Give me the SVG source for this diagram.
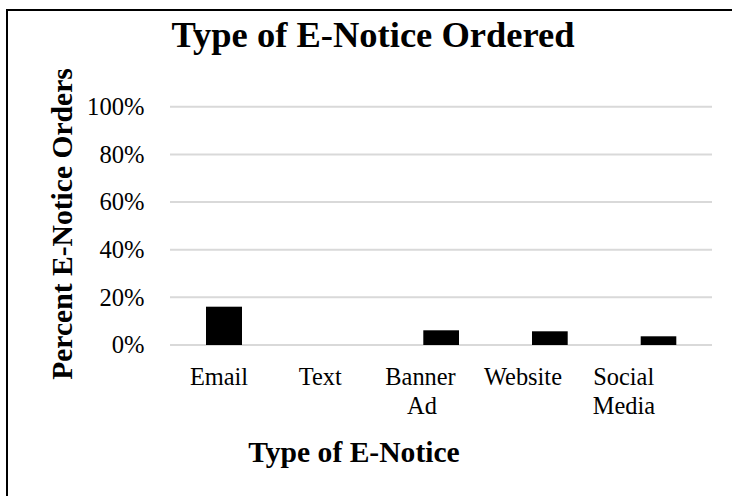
<svg xmlns="http://www.w3.org/2000/svg" width="732" height="496" viewBox="0 0 732 496">
<style>
.t{font-family:"Liberation Serif","Times New Roman",serif;fill:#000}
.title{font-size:36.5px;font-weight:bold;text-anchor:middle}
.ax{font-size:29.6px;font-weight:bold;text-anchor:middle}
.yl{font-size:24.6px;text-anchor:end}
.xl{font-size:24.4px;text-anchor:middle}
.grid{stroke:#d9d9d9;stroke-width:2}
.bar{fill:#000}
</style>
<rect x="0" y="0" width="732" height="496" fill="#fff"/>
<path d="M7,500 V10 H740" fill="none" stroke="#000" stroke-width="2"/>
<text class="t title" x="373" y="47.3">Type of E-Notice Ordered</text>
<g id="gridlines">
<line class="grid" x1="170" y1="106.7" x2="712" y2="106.7"/>
<line class="grid" x1="170" y1="154.4" x2="712" y2="154.4"/>
<line class="grid" x1="170" y1="202" x2="712" y2="202"/>
<line class="grid" x1="170" y1="249.7" x2="712" y2="249.7"/>
<line class="grid" x1="170" y1="297.3" x2="712" y2="297.3"/>
<line class="grid" x1="170" y1="345" x2="712" y2="345"/>
</g>
<g id="y-labels">
<text class="t yl" x="144.5" y="115">100%</text>
<text class="t yl" x="144.5" y="162.7">80%</text>
<text class="t yl" x="144.5" y="210.3">60%</text>
<text class="t yl" x="144.5" y="258">40%</text>
<text class="t yl" x="144.5" y="305.7">20%</text>
<text class="t yl" x="144.5" y="353.3">0%</text>
</g>
<g id="bars">
<rect class="bar" x="206" y="306.7" width="36" height="38.3"/>
<rect class="bar" x="423.3" y="330.3" width="35.7" height="14.7"/>
<rect class="bar" x="532" y="331.3" width="35.7" height="13.7"/>
<rect class="bar" x="640.7" y="336.3" width="35.6" height="8.7"/>
</g>
<g id="x-labels">
<text class="t xl" x="219" y="385">Email</text>
<text class="t xl" x="320.3" y="385">Text</text>
<text class="t xl" x="420.5" y="385">Banner</text>
<text class="t xl" x="422" y="414">Ad</text>
<text class="t xl" x="523" y="385">Website</text>
<text class="t xl" x="623.7" y="385">Social</text>
<text class="t xl" x="624" y="414">Media</text>
</g>
<text class="t ax" x="354" y="461.5">Type of E-Notice</text>
<text class="t ax" transform="translate(71.5,224) rotate(-90)" x="0" y="0">Percent E-Notice Orders</text>
</svg>
